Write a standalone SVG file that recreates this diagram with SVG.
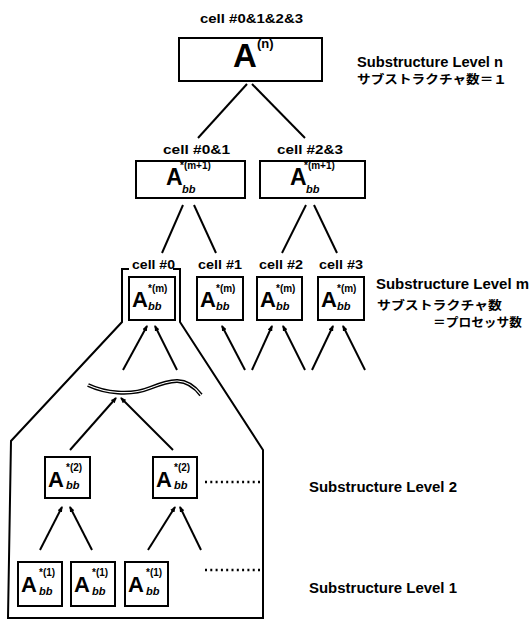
<svg xmlns="http://www.w3.org/2000/svg" width="530" height="622" viewBox="0 0 530 622">
<style>
.box{fill:none;stroke:#000;stroke-width:2}
.ln{fill:none;stroke:#000;stroke-width:2}
.dot{fill:none;stroke:#000;stroke-width:2.5;stroke-dasharray:2 3.3}
.t{font-family:"Liberation Sans",Arial,sans-serif;font-weight:bold;fill:#000}
.lbl{font-size:13px}
.lvl{font-size:14px}
.jp{font-family:"Noto Sans CJK JP","Liberation Sans",sans-serif;font-weight:bold;font-size:12px;fill:#000}
.A{font-size:22px}
.sup{font-size:10px}
.sub{font-size:11px;font-style:italic}
</style>
<defs>
<marker id="ah" markerUnits="userSpaceOnUse" markerWidth="6" markerHeight="5" refX="5" refY="2.5" orient="auto"><path d="M0,0 L6,2.5 L0,5 z" fill="#000"/></marker>
</defs>
<rect width="530" height="622" fill="#fff"/>

<!-- level labels -->
<text class="t lvl" x="357" y="67" textLength="146" lengthAdjust="spacingAndGlyphs">Substructure Level n</text>
<text class="jp" x="357" y="84" textLength="150" lengthAdjust="spacingAndGlyphs">サブストラクチャ数＝１</text>
<text class="t lvl" x="376" y="289" textLength="153" lengthAdjust="spacingAndGlyphs">Substructure Level m</text>
<text class="jp" x="377" y="310" textLength="125" lengthAdjust="spacingAndGlyphs">サブストラクチャ数</text>
<text class="jp" x="433" y="327" textLength="89" lengthAdjust="spacingAndGlyphs">＝プロセッサ数</text>
<text class="t lvl" x="309" y="492" textLength="148" lengthAdjust="spacingAndGlyphs">Substructure Level 2</text>
<text class="t lvl" x="309" y="593" textLength="148" lengthAdjust="spacingAndGlyphs">Substructure Level 1</text>

<!-- cell labels -->
<text class="t lbl" x="200" y="23" textLength="103" lengthAdjust="spacingAndGlyphs">cell #0&amp;1&amp;2&amp;3</text>
<text class="t lbl" x="163" y="154" textLength="67" lengthAdjust="spacingAndGlyphs">cell #0&amp;1</text>
<text class="t lbl" x="277" y="154" textLength="66" lengthAdjust="spacingAndGlyphs">cell #2&amp;3</text>
<text class="t lbl" x="132" y="269" textLength="43" lengthAdjust="spacingAndGlyphs">cell #0</text>
<text class="t lbl" x="198" y="269" textLength="44" lengthAdjust="spacingAndGlyphs">cell #1</text>
<text class="t lbl" x="259" y="269" textLength="44" lengthAdjust="spacingAndGlyphs">cell #2</text>
<text class="t lbl" x="319" y="269" textLength="44" lengthAdjust="spacingAndGlyphs">cell #3</text>

<!-- nodes -->
<g id="n-top">
<rect class="box" x="179" y="38" width="143" height="43"/>
<text class="t" x="233" y="67" font-size="33">A</text>
<text class="t" x="257" y="48" font-size="13">(n)</text>
</g>
<g id="n-01" transform="translate(136,161)">
<rect class="box" width="109" height="37"/>
<text class="t" x="30" y="24" font-size="23">A</text>
<text class="t sup" x="44" y="8" font-size="11">*(m+1)</text>
<text class="t sub" x="46" y="32" font-size="12">bb</text>
</g>
<g id="n-23" transform="translate(260,161)">
<rect class="box" width="105" height="37"/>
<text class="t" x="30" y="24" font-size="23">A</text>
<text class="t sup" x="44" y="8" font-size="11">*(m+1)</text>
<text class="t sub" x="46" y="32" font-size="12">bb</text>
</g>
<g id="n-c0" transform="translate(129,277)">
<rect class="box" width="46" height="43"/>
<text class="t A" x="3" y="30">A</text>
<text class="t sup" x="19" y="15">*(m)</text>
<text class="t sub" x="19" y="33">bb</text>
</g>
<g id="n-c1" transform="translate(197,277)">
<rect class="box" width="46" height="43"/>
<text class="t A" x="3" y="30">A</text>
<text class="t sup" x="19" y="15">*(m)</text>
<text class="t sub" x="19" y="33">bb</text>
</g>
<g id="n-c2" transform="translate(257,277)">
<rect class="box" width="45" height="43"/>
<text class="t A" x="3" y="30">A</text>
<text class="t sup" x="19" y="15">*(m)</text>
<text class="t sub" x="19" y="33">bb</text>
</g>
<g id="n-c3" transform="translate(318,277)">
<rect class="box" width="46" height="43"/>
<text class="t A" x="3" y="30">A</text>
<text class="t sup" x="19" y="15">*(m)</text>
<text class="t sub" x="19" y="33">bb</text>
</g>
<g id="n-l2a" transform="translate(45,457)">
<rect class="box" width="45" height="41"/>
<text class="t A" x="3" y="30">A</text>
<text class="t sup" x="21" y="14">*(2)</text>
<text class="t sub" x="21" y="32">bb</text>
</g>
<g id="n-l2b" transform="translate(153,457)">
<rect class="box" width="44" height="41"/>
<text class="t A" x="3" y="30">A</text>
<text class="t sup" x="21" y="14">*(2)</text>
<text class="t sub" x="21" y="32">bb</text>
</g>
<g id="n-l1a" transform="translate(18,562)">
<rect class="box" width="44" height="44"/>
<text class="t A" x="3" y="30">A</text>
<text class="t sup" x="21" y="14">*(1)</text>
<text class="t sub" x="21" y="33">bb</text>
</g>
<g id="n-l1b" transform="translate(71,562)">
<rect class="box" width="44" height="44"/>
<text class="t A" x="3" y="30">A</text>
<text class="t sup" x="21" y="14">*(1)</text>
<text class="t sub" x="21" y="33">bb</text>
</g>
<g id="n-l1c" transform="translate(125,562)">
<rect class="box" width="43" height="44"/>
<text class="t A" x="3" y="30">A</text>
<text class="t sup" x="21" y="14">*(1)</text>
<text class="t sub" x="21" y="33">bb</text>
</g>

<!-- connectors -->
<g id="connectors">
<line class="ln" x1="247" y1="84" x2="198" y2="138"/>
<line class="ln" x1="252" y1="84" x2="305" y2="138"/>
<line class="ln" x1="183" y1="205" x2="162" y2="253"/>
<line class="ln" x1="194" y1="205" x2="216" y2="253"/>
<line class="ln" x1="306" y1="205" x2="282" y2="253"/>
<line class="ln" x1="314" y1="205" x2="337" y2="253"/>
<line class="ln" x2="147" y2="326" x1="123" y1="370" marker-end="url(#ah)"/>
<line class="ln" x2="155" y2="326" x1="177" y1="370" marker-end="url(#ah)"/>
<line class="ln" x2="222" y2="326" x1="245" y1="370" marker-end="url(#ah)"/>
<line class="ln" x2="272" y2="326" x1="252" y1="370" marker-end="url(#ah)"/>
<line class="ln" x2="283" y2="326" x1="305" y1="370" marker-end="url(#ah)"/>
<line class="ln" x2="333" y2="326" x1="312" y1="370" marker-end="url(#ah)"/>
<line class="ln" x2="343" y2="326" x1="365" y1="370" marker-end="url(#ah)"/>
<path d="M88,385 C105,393 130,396 150,388 C170,380 186,375 201,395" fill="none" stroke="#000" stroke-width="4"/>
<path d="M88,385 C105,393 130,396 150,388 C170,380 186,375 201,395" fill="none" stroke="#fff" stroke-width="1.2"/>
<line class="ln" x2="116" y2="398" x1="70" y1="450" marker-end="url(#ah)"/>
<line class="ln" x2="121" y2="398" x1="173" y1="450" marker-end="url(#ah)"/>
<line class="ln" x2="62" y2="507" x1="40" y1="550" marker-end="url(#ah)"/>
<line class="ln" x2="70" y2="507" x1="92" y1="550" marker-end="url(#ah)"/>
<line class="ln" x2="175" y2="507" x1="148" y1="550" marker-end="url(#ah)"/>
<line class="ln" x2="180" y2="507" x1="201" y1="550" marker-end="url(#ah)"/>
<path class="ln" d="M129,269 L122,269 L122,322 L11,441 L8,618 L263,618 L263,450 L180,322 L180,269 L173,269"/>
<line class="dot" x1="205" y1="482" x2="262" y2="482"/>
<line class="dot" x1="205" y1="570" x2="262" y2="570"/>
</g>
</svg>
